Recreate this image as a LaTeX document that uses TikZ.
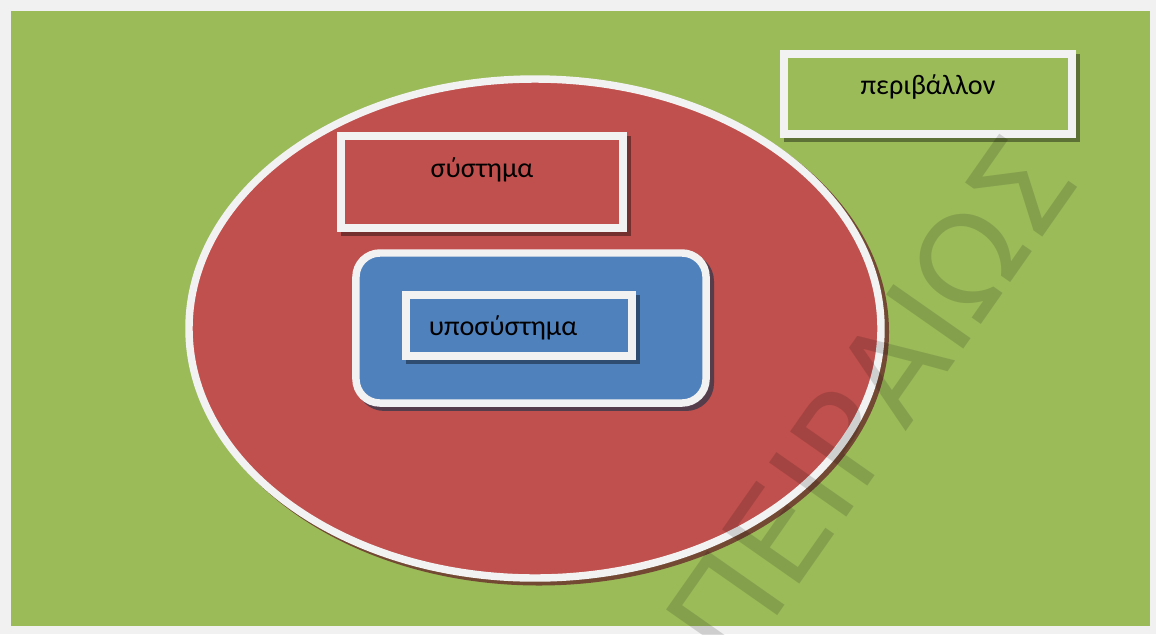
\documentclass[tikz,border=0pt]{standalone}
\usepackage{fontspec}
\setmainfont{Carlito}
\newfontfamily\stampfont{DejaVu Sans}
\usetikzlibrary{shadows}
\definecolor{frame}{HTML}{F1F1F1}
\definecolor{rim}{HTML}{F2F2F2}
\definecolor{meadow}{HTML}{9BBB59}
\definecolor{brick}{HTML}{C0504D}
\definecolor{steel}{HTML}{4F81BD}

\begin{document}
\begin{tikzpicture}[x=0.025cm, y=-0.025cm, font=\fontsize{20}{24}\selectfont,
  box/.style={draw=rim, line width=5.3pt, minimum width=#1, inner sep=0pt},
  shade on/.style={drop shadow={shadow xshift=3pt, shadow yshift=-3pt, fill=#1, draw=#1, line width=5.3pt, opacity=1}}]
  \useasboundingbox (0,0) rectangle (1156,634);
  \fill[frame] (0,0) rectangle (1156,634);
  \fill[meadow] (11,11) rectangle (1150,626);

  % the system
  \fill[brick!55!black!80!meadow] (539,332) ellipse (350 and 253.5);
  \draw[rim, line width=5.3pt, fill=brick] (535,328.5) ellipse (346 and 249.5);

  \node[box=7.2cm, minimum height=2cm, fill=meadow, shade on=meadow!60!black] (env) at (928,94) {};
  \node[box=7.05cm, minimum height=2.3cm, fill=brick, shade on=brick!60!black] (sys) at (482,182) {};
  \node[box=8.75cm, minimum height=3.75cm, rounded corners=0.6cm, fill=steel, shade on=steel!45!brick!60!black] (sub) at (531,328) {};
  \node[box=5.65cm, minimum height=1.525cm, fill=steel, shade on=steel!60!black] (subin) at (519,325.5) {};

  \node (envtxt) at (928,87) {περιβάλλον};
  \node (systxt) at (482,170) {σύστημα};
  \node (subtxt) at (503,328) {υποσύστημα};

  \node[rotate=55, opacity=0.14, text=black, font=\stampfont\fontsize{92}{92}\selectfont] (stamp) at (870,400) {ΠΕΙΡΑΙΩΣ};
\end{tikzpicture}
\end{document}
